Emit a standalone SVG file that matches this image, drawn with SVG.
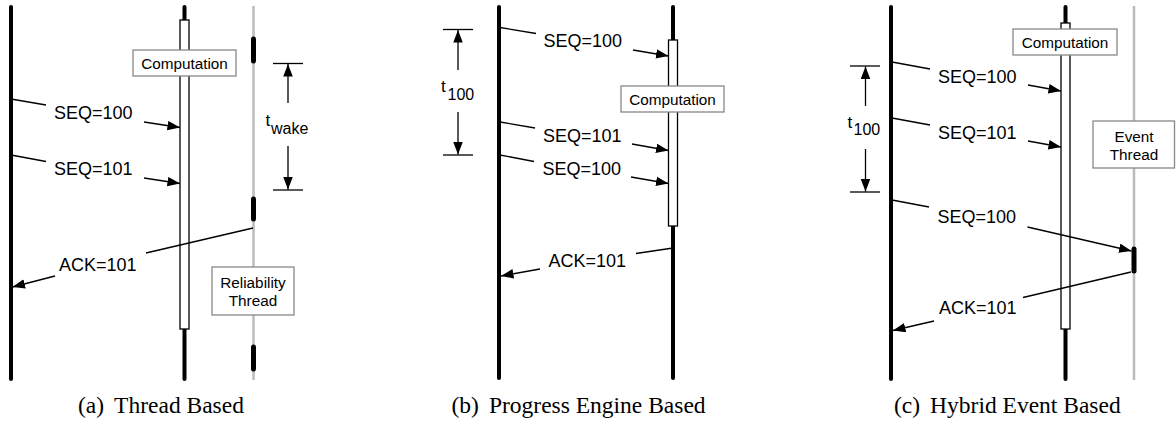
<svg xmlns="http://www.w3.org/2000/svg" width="1176" height="423" viewBox="0 0 1176 423">
<style>
.life{stroke:#000;stroke-width:4;stroke-linecap:round;fill:none}
.glife{stroke:#bbb;stroke-width:2.5;fill:none}
.act{fill:#fff;stroke:#000;stroke-width:1.3}
.blk{stroke:#000;stroke-width:5;stroke-linecap:round;fill:none}
.box{fill:#fff;stroke:#888;stroke-width:1.3}
.msg{stroke:#000;stroke-width:1.3;fill:none}
.arr{stroke:#000;stroke-width:1.3;fill:none;marker-end:url(#ah)}
.lbl{font-family:"Liberation Sans",Arial,sans-serif;font-size:18px;fill:#000}
.blbl{font-family:"Liberation Sans",Arial,sans-serif;font-size:15.3px;fill:#000;text-anchor:middle}
.tl{font-family:"Liberation Sans",Arial,sans-serif;font-size:17px;fill:#000}
.sub{font-family:"Liberation Sans",Arial,sans-serif;font-size:16px;fill:#000}
.cap{font-family:"Liberation Serif","Times New Roman",serif;font-size:23.5px;fill:#000}
</style>
<defs>
<marker id="ah" markerUnits="userSpaceOnUse" markerWidth="14" markerHeight="10" refX="12.5" refY="4.75" orient="auto">
<path d="M0,0 L12.5,4.75 L0,9.5 z" fill="#000"/>
</marker>
</defs>

<!-- Panel (a) -->
<g id="a-client"><line class="life" x1="11" y1="7" x2="11" y2="379"/></g>
<g id="a-server">
<line class="life" x1="184.5" y1="7" x2="184.5" y2="21"/>
<line class="life" x1="184.5" y1="329" x2="184.5" y2="379"/>
<rect class="act" x="180" y="20" width="9" height="309"/>
</g>
<g id="a-reliability">
<line class="glife" x1="253.5" y1="6" x2="253.5" y2="380"/>
<line class="blk" x1="253.5" y1="39" x2="253.5" y2="61"/>
<line class="blk" x1="253.5" y1="199" x2="253.5" y2="219"/>
<line class="blk" x1="253.5" y1="347" x2="253.5" y2="369"/>
</g>
<g id="a-computation">
<rect class="box" x="133" y="50" width="103" height="26"/>
<text class="blbl" x="184.5" y="68.5">Computation</text>
</g>
<g id="a-reliability-label">
<rect class="box" x="212" y="267" width="82" height="48"/>
<text class="blbl" x="253" y="287.5">Reliability</text>
<text class="blbl" x="253" y="306">Thread</text>
</g>
<g id="a-twake">
<line class="msg" x1="273" y1="63.5" x2="303" y2="63.5"/>
<line class="msg" x1="273" y1="190" x2="303" y2="190"/>
<line class="arr" x1="288" y1="103" x2="288" y2="64"/>
<line class="arr" x1="288" y1="146" x2="288" y2="189.5"/>
<text class="tl" x="265.5" y="126">t</text>
<text class="sub" x="271" y="133.5">wake</text>
</g>

<!-- Panel (b) -->
<g id="b-client"><line class="life" x1="499" y1="7" x2="499" y2="378"/></g>
<g id="b-server">
<line class="life" x1="673" y1="7" x2="673" y2="41"/>
<line class="life" x1="673" y1="226" x2="673" y2="378"/>
<rect class="act" x="668.5" y="40" width="9" height="186"/>
</g>
<g id="b-computation">
<rect class="box" x="621" y="86" width="103" height="26"/>
<text class="blbl" x="672.5" y="104.5">Computation</text>
</g>
<g id="b-t100">
<line class="msg" x1="443" y1="29.5" x2="473" y2="29.5"/>
<line class="msg" x1="443" y1="155" x2="473" y2="155"/>
<line class="arr" x1="458" y1="70" x2="458" y2="30"/>
<line class="arr" x1="458" y1="112" x2="458" y2="154.5"/>
<text class="tl" x="441" y="92">t</text>
<text class="sub" x="447.5" y="99.5">100</text>
</g>

<!-- Panel (c) -->
<g id="c-client"><line class="life" x1="891" y1="7" x2="891" y2="379"/></g>
<g id="c-server">
<line class="life" x1="1065.5" y1="7" x2="1065.5" y2="24"/>
<line class="life" x1="1065.5" y1="329" x2="1065.5" y2="379"/>
<rect class="act" x="1061" y="23" width="9" height="306"/>
</g>
<g id="c-event">
<line class="glife" x1="1134" y1="6" x2="1134" y2="380"/>
<line class="blk" x1="1134" y1="249" x2="1134" y2="271"/>
</g>
<g id="c-computation">
<rect class="box" x="1013" y="29" width="104" height="26"/>
<text class="blbl" x="1065" y="47.5">Computation</text>
</g>
<g id="c-event-label">
<rect class="box" x="1093" y="121" width="81.5" height="47"/>
<text class="blbl" x="1134" y="142">Event</text>
<text class="blbl" x="1134" y="160">Thread</text>
</g>
<g id="c-t100">
<line class="msg" x1="850" y1="66" x2="880" y2="66"/>
<line class="msg" x1="850" y1="192" x2="880" y2="192"/>
<line class="arr" x1="865.5" y1="106" x2="865.5" y2="66.5"/>
<line class="arr" x1="865.5" y1="149" x2="865.5" y2="191.5"/>
<text class="tl" x="847.5" y="127.5">t</text>
<text class="sub" x="853.5" y="135">100</text>
</g>

<!-- Connectors -->
<g id="connectors">
<!-- (a) -->
<line class="msg" x1="11" y1="99" x2="46" y2="105"/>
<line class="arr" x1="144" y1="122" x2="180" y2="127.5"/>
<text class="lbl" x="54" y="119">SEQ=100</text>
<line class="msg" x1="11" y1="155" x2="46" y2="161.5"/>
<line class="arr" x1="144" y1="178" x2="180" y2="183.5"/>
<text class="lbl" x="54" y="175">SEQ=101</text>
<line class="msg" x1="253" y1="228" x2="146" y2="253"/>
<line class="arr" x1="55" y1="276" x2="12.5" y2="287"/>
<text class="lbl" x="59" y="271">ACK=101</text>
<!-- (b) -->
<line class="msg" x1="500" y1="27.5" x2="536" y2="33.5"/>
<line class="arr" x1="633" y1="50" x2="668.5" y2="56"/>
<text class="lbl" x="543.5" y="46.5">SEQ=100</text>
<line class="msg" x1="500" y1="122" x2="535" y2="128"/>
<line class="arr" x1="632" y1="144" x2="668.5" y2="150.5"/>
<text class="lbl" x="543" y="141.5">SEQ=101</text>
<line class="msg" x1="500" y1="155" x2="534" y2="161.5"/>
<line class="arr" x1="631" y1="177" x2="668.5" y2="183.5"/>
<text class="lbl" x="542.5" y="174.5">SEQ=100</text>
<line class="msg" x1="673" y1="248" x2="636" y2="253.5"/>
<line class="arr" x1="540" y1="269" x2="501" y2="276"/>
<text class="lbl" x="548.5" y="267">ACK=101</text>
<!-- (c) -->
<line class="msg" x1="892" y1="62" x2="930" y2="69"/>
<line class="arr" x1="1028" y1="85" x2="1061" y2="91"/>
<text class="lbl" x="938" y="82.5">SEQ=100</text>
<line class="msg" x1="892" y1="118" x2="930" y2="125"/>
<line class="arr" x1="1028" y1="141" x2="1061" y2="147"/>
<text class="lbl" x="938" y="138.5">SEQ=101</text>
<line class="msg" x1="892" y1="200" x2="929" y2="207"/>
<line class="arr" x1="1027.5" y1="227" x2="1131.5" y2="251"/>
<text class="lbl" x="937.5" y="222.5">SEQ=100</text>
<line class="msg" x1="1131" y1="272" x2="1023" y2="297.5"/>
<line class="arr" x1="934" y1="321" x2="893" y2="330.5"/>
<text class="lbl" x="939" y="313.5">ACK=101</text>
</g>

<!-- Captions -->
<text class="cap" x="78" y="413">(a)<tspan dx="10">Thread Based</tspan></text>
<text class="cap" x="451.5" y="413">(b)<tspan dx="10">Progress Engine Based</tspan></text>
<text class="cap" x="894" y="413">(c)<tspan dx="10">Hybrid Event Based</tspan></text>
</svg>
